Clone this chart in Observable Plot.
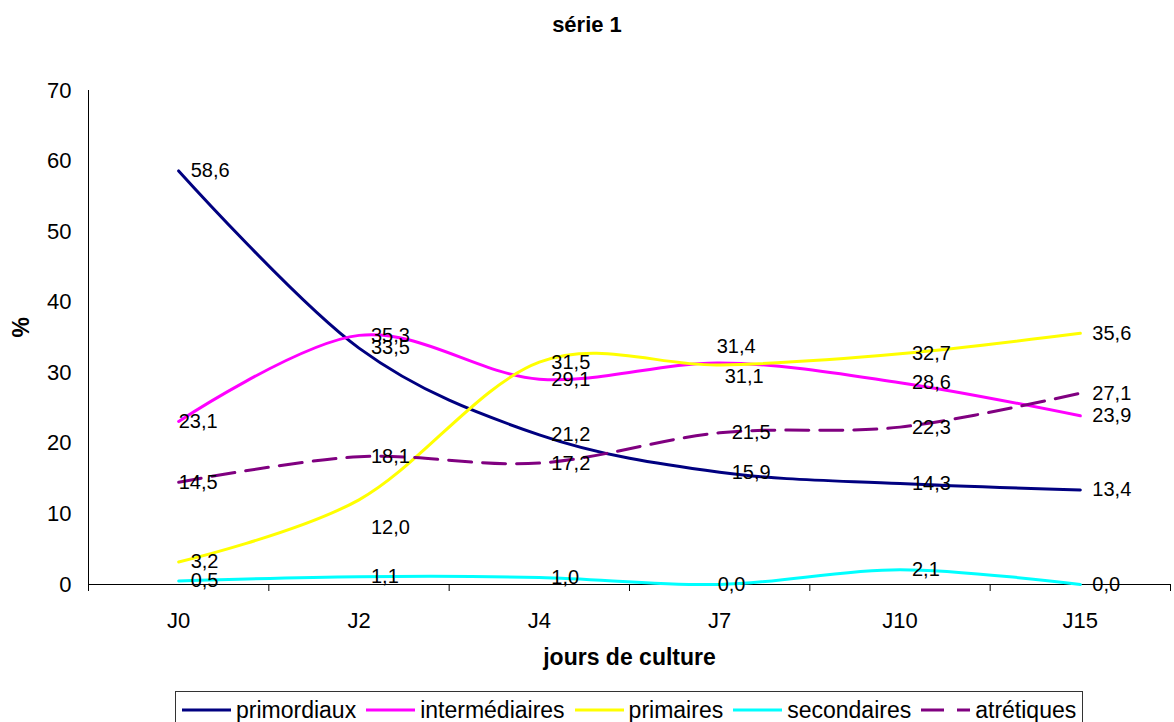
<!DOCTYPE html>
<html>
<head>
<meta charset="utf-8">
<script src="https://cdn.jsdelivr.net/npm/d3@7"></script>
<script src="https://cdn.jsdelivr.net/npm/@observablehq/plot@0.6"></script>
<style>
  html, body { margin: 0; padding: 0; background: #fff; }
  body { width: 1174px; height: 722px; position: relative; overflow: hidden; font-family: "Liberation Sans", Arial, sans-serif; }
  #title { position: absolute; top: 0; left: 0; width: 1174px; height: 50px; line-height: 50px; text-align: center; font-weight: bold; font-size: 22px; }
  #chart { position: absolute; top: 50px; left: 0; }
  #legend { position: absolute; top: 691px; left: 175px; border: 1px solid #333; height: 38px; box-sizing: border-box; padding: 0 6px; display: flex; align-items: center; font-size: 23px; line-height: 24px; white-space: nowrap; }
  #legend .item { display: flex; align-items: center; }
  #legend .item svg { margin-right: 5px; }
  #legend .item span { margin-right: 10px; }
  #legend .item:last-child span { margin-right: 0; }
</style>
</head>
<body>
<div id="title">série 1</div>
<div id="chart"></div>
<div id="legend"></div>
<script>
// ---- data ----
const categories = ["J0", "J2", "J4", "J7", "J10", "J15"];
const seriesNames = ["primordiaux", "intermédiaires", "primaires", "secondaires", "atrétiques"];
const primordiaux    = [58.6, 33.5, 21.2, 15.9, 14.3, 13.4];
const intermediaires = [23.1, 35.3, 29.1, 31.4, 28.6, 23.9];
const primaires      = [3.2, 12.0, 31.5, 31.1, 32.7, 35.6];
const secondaires    = [0.5, 1.1, 1.0, 0.0, 2.1, 0.0];
const atretiques     = [14.5, 18.1, 17.2, 21.5, 22.3, 27.1];
const yTicks = [0, 10, 20, 30, 40, 50, 60, 70];

// ---- styling ----
const seriesValues = [primordiaux, intermediaires, primaires, secondaires, atretiques];
const colors = ["#000080", "#FF00FF", "#FFFF00", "#00FFFF", "#800080"];
const dashes = [null, null, null, null, "23,11"];
// manual label adjustments (label placement only)
const nudge = {
  "intermédiaires|J0": [-12, 0],
  "atrétiques|J0": [-12, 0],
  "primaires|J2": [0, 28],
  "intermédiaires|J7": [-15, -16],
  "primaires|J7": [-7, 12],
  "secondaires|J7": [-14, 0]
};

const rows = [];
seriesNames.forEach((s, k) => {
  seriesValues[k].forEach((v, i) => {
    const nd = nudge[s + "|" + categories[i]] || [0, 0];
    rows.push({series: s, k, i, cat: categories[i], value: v, dx: nd[0], dy: nd[1]});
  });
});
const fmt = v => v.toFixed(1).replace(".", ",");

const marks = [
  Plot.ruleY([0], {stroke: "#000", strokeWidth: 1}),
  Plot.ruleX([-0.5], {stroke: "#000", strokeWidth: 1}),
  Plot.axisY({ticks: yTicks, tickSize: 0, tickPadding: 17, fontSize: 22, label: null, tickFormat: d => String(d)}),
  Plot.axisX({ticks: d3.range(categories.length), tickSize: 0, tickPadding: 28, fontSize: 22, label: null, tickFormat: i => categories[i]}),
  Plot.axisX({ticks: d3.range(categories.length + 1).map(i => i - 0.5), tickSize: 7, label: null, tickFormat: () => "", stroke: "#000"}),
  Plot.text(["jours de culture"], {frameAnchor: "bottom", dy: 80, fontWeight: "bold", fontSize: 23}),
  Plot.text(["%"], {frameAnchor: "left", dx: -67, rotate: -90, fontWeight: "bold", fontSize: 23})
];
seriesNames.forEach((s, k) => {
  marks.push(Plot.line(rows.filter(r => r.k === k), {
    x: "i", y: "value", stroke: colors[k], strokeWidth: 3,
    strokeDasharray: dashes[k] || undefined,
    curve: "cardinal", tension: 0
  }));
});
rows.forEach(r => {
  marks.push(Plot.text([r], {
    x: "i", y: "value", text: d => fmt(d.value), textAnchor: "start",
    dx: 12 + r.dx, dy: r.dy, fontSize: 20, fill: "#000"
  }));
});

const chart = Plot.plot({
  width: 1174,
  height: 640,
  marginLeft: 88,
  marginRight: 4,
  marginTop: 40,
  marginBottom: 106,
  x: {type: "linear", domain: [-0.5, categories.length - 0.5], label: null},
  y: {domain: [0, 70], label: null},
  style: {fontFamily: "'Liberation Sans', Arial, sans-serif", color: "#000", background: "#fff", overflow: "visible"},
  marks
});
document.getElementById("chart").appendChild(chart);

// legend
const legend = document.getElementById("legend");
seriesNames.forEach((s, k) => {
  const item = document.createElement("div");
  item.className = "item";
  const dash = dashes[k] ? ` stroke-dasharray="23,13"` : "";
  item.innerHTML = `<svg width="49" height="10"><line x1="0" x2="49" y1="5" y2="5" stroke="${colors[k]}" stroke-width="3"${dash}/></svg><span>${s}</span>`;
  legend.appendChild(item);
});
</script>
</body>
</html>
